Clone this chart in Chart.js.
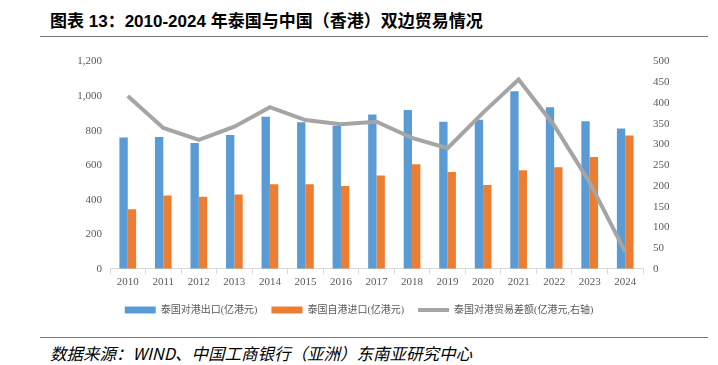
<!DOCTYPE html>
<html>
<head>
<meta charset="utf-8">
<script src="https://cdn.jsdelivr.net/npm/chart.js@4"></script>
<style>
  body { margin: 0; width: 718px; height: 365px; background: #fff; position: relative; overflow: hidden; }
  .title { position: absolute; left: 50px; top: 7px; font: bold 17px "Liberation Sans", "Noto Sans CJK SC", sans-serif; color: #000; white-space: nowrap; }
  .rule { position: absolute; left: 40px; width: 668px; height: 1px; background: #777; }
  .source { position: absolute; left: 50px; top: 341px; font: italic 16.5px "Noto Sans CJK SC", sans-serif; color: #000; white-space: nowrap; }
  #box { position: absolute; left: 0; top: 45px; width: 718px; height: 280px; }
</style>
</head>
<body>
<div class="title">图表 13：2010-2024 年泰国与中国（香港）双边贸易情况</div>
<div class="rule" style="top:36px"></div>
<div id="box"><canvas id="myChart"></canvas></div>
<div class="rule" style="top:337px"></div>
<div class="source">数据来源：WIND、中国工商银行（亚洲）东南亚研究中心</div>

<script>
// values
const years = ['2010', '2011', '2012', '2013', '2014', '2015', '2016', '2017',
    '2018', '2019', '2020', '2021', '2022', '2023', '2024'];
const exportsToHK = [760, 763, 728, 775, 880, 849, 829, 894, 920, 851, 863, 1028, 935, 855, 812];
const importsFromHK = [345, 424, 418, 431, 490, 490, 480, 541, 606, 561, 486, 571, 588, 647, 772];
const tradeBalance = [417, 340, 311, 343, 390, 359, 349, 355, 316, 291, 377, 457, 346, 208, 41];

const tickFont = { family: '"Liberation Serif", serif', size: 11 };

window.onload = () => {
    buildChart();
}

const buildChart = () => {
    var ctx = document.getElementById('myChart').getContext('2d');
    var chart = new Chart(ctx, {
        type: 'bar',
        data: {
            labels: years,
            datasets: [{
                label: '泰国对港出口(亿港元)',
                data: exportsToHK,
                backgroundColor: '#5B9BD5',
                pointStyle: 'rect',
                yAxisID: 'y',
                order: 1
            }, {
                label: '泰国自港进口(亿港元)',
                data: importsFromHK,
                backgroundColor: '#ED7D31',
                pointStyle: 'rect',
                yAxisID: 'y',
                order: 1
            }, {
                type: 'line',
                label: '泰国对港贸易差额(亿港元,右轴)',
                data: tradeBalance,
                borderColor: '#A5A5A5',
                backgroundColor: '#A5A5A5',
                borderWidth: 4,
                pointRadius: 0,
                pointStyle: 'line',
                tension: 0,
                yAxisID: 'y1',
                order: 0
            }]
        },
        options: {
            responsive: true,
            maintainAspectRatio: false,
            animation: false,
            layout: { padding: { top: 14, left: 0, right: 0, bottom: 0 } },
            datasets: {
                bar: { categoryPercentage: 0.47, barPercentage: 1 }
            },
            plugins: {
                tooltip: { enabled: false },
                legend: {
                    position: 'bottom',
                    labels: {
                        usePointStyle: true,
                        pointStyleWidth: 31,
                        boxHeight: 7,
                        padding: 14,
                        color: '#595959',
                        font: { family: '"Liberation Serif", "Noto Sans CJK SC", serif', size: 10 },
                        sort: (a, b) => a.datasetIndex - b.datasetIndex
                    }
                }
            },
            scales: {
                x: {
                    grid: { display: true, offset: true, drawOnChartArea: false, color: '#D9D9D9', tickLength: 5 },
                    border: { display: true, color: '#D9D9D9' },
                    ticks: { color: '#595959', font: tickFont, padding: 2, maxRotation: 0 }
                },
                y: {
                    position: 'left',
                    min: 0,
                    max: 1200,
                    grid: { display: false, drawTicks: false },
                    border: { display: false },
                    ticks: { stepSize: 200, color: '#595959', font: tickFont, padding: 8 },
                    afterFit: (scale) => { scale.width = 110; }
                },
                y1: {
                    position: 'right',
                    min: 0,
                    max: 500,
                    grid: { display: false, drawTicks: false },
                    border: { display: false },
                    ticks: { stepSize: 50, color: '#595959', font: tickFont, padding: 10 },
                    afterFit: (scale) => { scale.width = 75; }
                }
            }
        }
    });
}
</script>
</body>
</html>
